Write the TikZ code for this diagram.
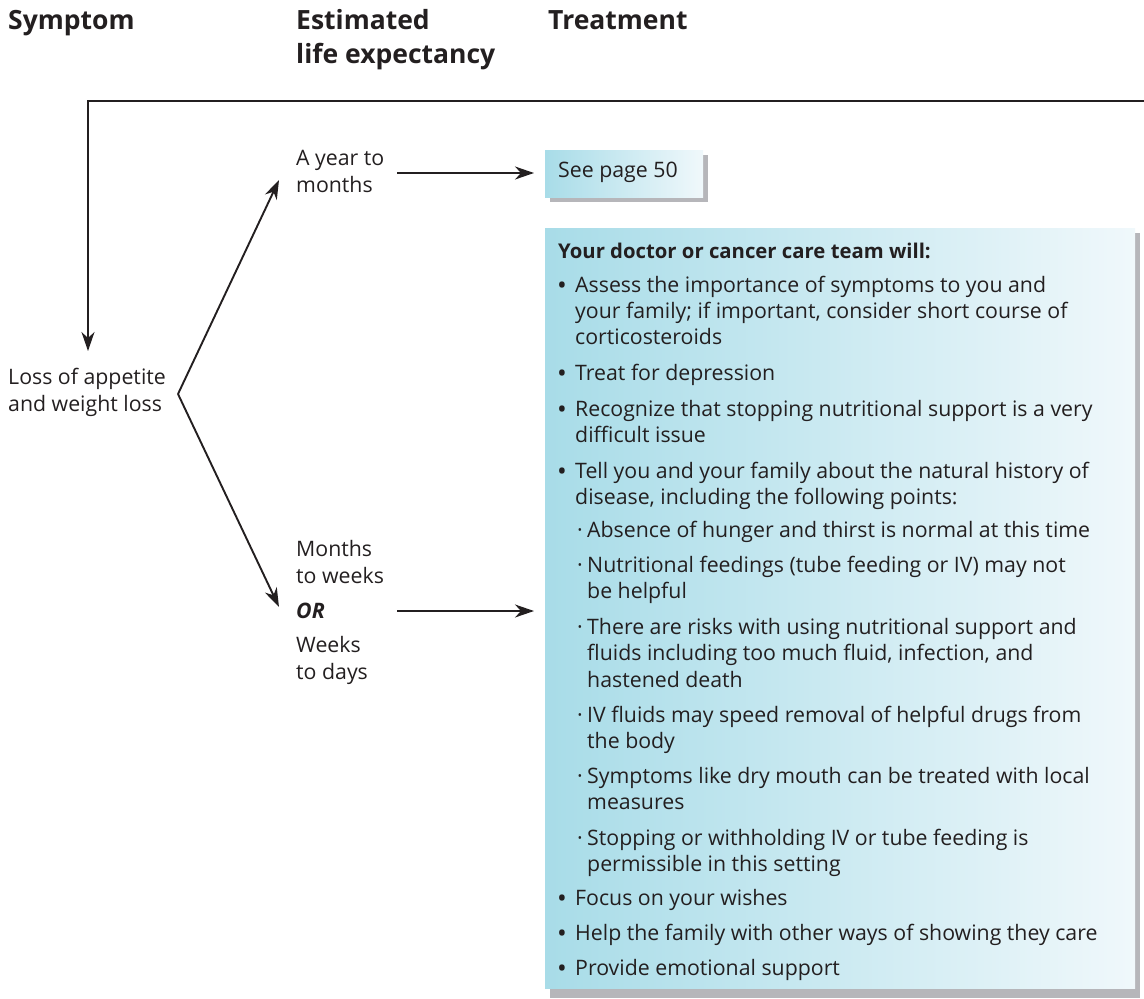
\documentclass[tikz,border=0pt]{standalone}
\usepackage{fontspec}
\setmainfont{Open Sans}
\usetikzlibrary{arrows.meta}
\definecolor{boxL}{RGB}{168,220,232}
\definecolor{boxR}{RGB}{240,248,251}
\definecolor{shade}{RGB}{182,182,186}
\definecolor{ink}{RGB}{35,31,32}
\newcommand{\bul}{\raisebox{-2.5pt}{\fontsize{26}{26}\selectfont •}}
\tikzset{
  arr/.style={draw=ink, line width=1.9pt, -{Stealth[length=19pt,width=13pt,inset=6pt]}},
  hdr/.style={anchor=base west, inner sep=0pt, font=\fontsize{26.5}{34}\selectfont\bfseries, text=ink, align=left},
  txt/.style={anchor=base west, inner sep=0pt, font=\fontsize{21.3}{26}\selectfont, text=ink},
  lbl/.style={anchor=base west, inner sep=0pt, font=\fontsize{21.3}{27}\selectfont, text=ink, align=left},
  panel/.style={left color=boxL, right color=boxR, draw=none},
  shadowbox/.style={fill=shade, draw=none}
}
\begin{document}
\begin{tikzpicture}[x=1pt,y=-1pt]
\useasboundingbox (0,0) rectangle (1144,999);
% headers
\node[hdr] (h1) at (8,29) {Symptom};
\node[hdr] (h2) at (296,63) {Estimated\\life expectancy};
\node[hdr] (h3) at (548,29) {Treatment};
% left labels
\node[lbl] (sym) at (8,411) {Loss of appetite\\and weight loss};
\node[lbl] (yr) at (296,192) {A year to\\months};
\node[lbl] (mw1) at (296,583) {Months\\to weeks};
\node[lbl, font=\fontsize{21.3}{26}\selectfont\bfseries\itshape] (orr) at (296,618) {OR};
\node[lbl] (mw2) at (296,679) {Weeks\\to days};
% see page box
\fill[shadowbox] (550,155) rectangle (708,202);
\node[panel, minimum width=158pt, minimum height=47pt, anchor=north west, inner sep=0pt] (see) at (545,150) {};
\node[txt] (seet) at (558,177) {See page 50};
% big box
\fill[shadowbox] (550,233) rectangle (1140,998);
\node[panel, minimum width=590pt, minimum height=760pt, anchor=north west, inner sep=0pt] (big) at (545,228) {};
\node[txt, font=\fontsize{20.3}{26}\selectfont\bfseries] (t0) at (558,258) {Your doctor or cancer care team will:};
\node[txt] (b1) at (557,292) {\bul};
\node[txt] (l1) at (575,292) {Assess the importance of symptoms to you and};
\node[txt] (l2) at (575,318) {your family; if important, consider short course of};
\node[txt] (l3) at (575,344) {corticosteroids};
\node[txt] (b2) at (557,380) {\bul};
\node[txt] (l4) at (575,380) {Treat for depression};
\node[txt] (b3) at (557,416) {\bul};
\node[txt] (l5) at (575,416) {Recognize that stopping nutritional support is a very};
\node[txt] (l6) at (575,442) {difficult issue};
\node[txt] (b4) at (557,478) {\bul};
\node[txt] (l7) at (575,478) {Tell you and your family about the natural history of};
\node[txt] (l8) at (575,504) {disease, including the following points:};
\node[txt] (d1) at (577,537) {·};
\node[txt] (s1) at (587,537) {Absence of hunger and thirst is normal at this time};
\node[txt] (d2) at (577,572) {·};
\node[txt] (s2) at (587,572) {Nutritional feedings (tube feeding or IV) may not};
\node[txt] (s3) at (587,598) {be helpful};
\node[txt] (d3) at (577,634) {·};
\node[txt] (s4) at (587,634) {There are risks with using nutritional support and};
\node[txt] (s5) at (587,660) {fluids including too much fluid, infection, and};
\node[txt] (s6) at (587,687) {hastened death};
\node[txt] (d4) at (577,722) {·};
\node[txt] (s7) at (587,722) {IV fluids may speed removal of helpful drugs from};
\node[txt] (s8) at (587,748) {the body};
\node[txt] (d5) at (577,783) {·};
\node[txt] (s9) at (587,783) {Symptoms like dry mouth can be treated with local};
\node[txt] (s10) at (587,809) {measures};
\node[txt] (d6) at (577,845) {·};
\node[txt] (s11) at (587,845) {Stopping or withholding IV or tube feeding is};
\node[txt] (s12) at (587,871) {permissible in this setting};
\node[txt] (b5) at (557,905) {\bul};
\node[txt] (l9) at (575,905) {Focus on your wishes};
\node[txt] (b6) at (557,940) {\bul};
\node[txt] (l10) at (575,940) {Help the family with other ways of showing they care};
\node[txt] (b7) at (557,975) {\bul};
\node[txt] (l11) at (575,975) {Provide emotional support};
% connectors
\coordinate (topR) at (1144,101);
\coordinate (topL) at (88,101);
\coordinate (symIn) at (88,351);
\coordinate (apex) at (178,394);
\coordinate (upEnd) at (279,180);
\coordinate (loEnd) at (279,607);
\draw[arr] (topR) -- (topL) -- (symIn);
\draw[arr] (apex) -- (upEnd);
\draw[arr] (apex) -- (loEnd);
\coordinate (a1s) at (397,173);
\coordinate (a1e) at (534,173);
\coordinate (a2s) at (397,611);
\coordinate (a2e) at (534,611);
\draw[arr] (a1s) -- (a1e);
\draw[arr] (a2s) -- (a2e);
\end{tikzpicture}
\end{document}
